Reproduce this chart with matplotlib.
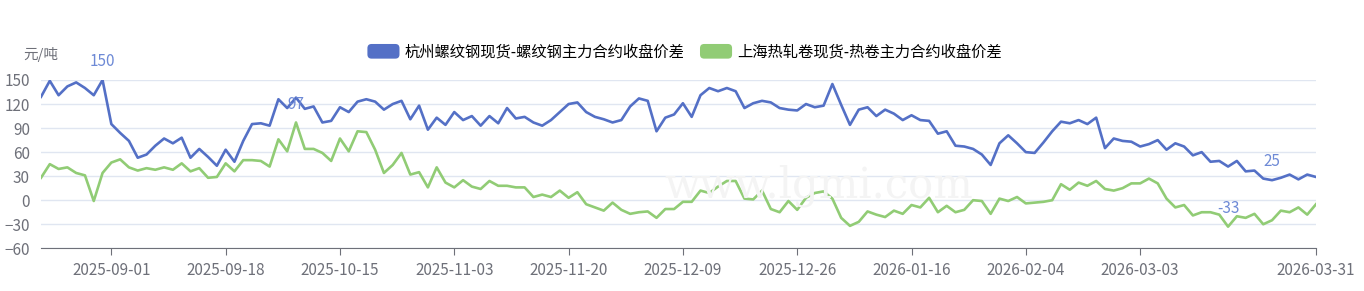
import matplotlib
matplotlib.use('Agg')
import matplotlib.pyplot as plt
from matplotlib.patches import Patch, FancyBboxPatch
from matplotlib.legend_handler import HandlerPatch

plt.rcParams['font.family'] = ['Noto Sans CJK SC', 'DejaVu Sans']

# trading-day series (one value per day, category axis)
rebar_spread = [129, 149, 131, 142, 147, 140, 131, 150, 95, 84, 74, 53, 57, 68, 77, 71, 78, 53, 64, 54, 43, 63, 48, 74,
                95, 96, 93, 126, 115, 128, 114, 117, 97, 99, 116, 110, 123, 126, 123, 113, 120, 124, 101, 118, 88, 103, 94, 110,
                100, 105, 93, 105, 96, 115, 102, 104, 97, 93, 100, 110, 120, 122, 110, 104, 101, 97, 100, 117, 127, 124, 86, 103,
                107, 121, 104, 131, 140, 136, 140, 136, 115, 121, 124, 122, 115, 113, 112, 120, 116, 118, 145, 119, 94, 113, 116, 105,
                113, 108, 100, 106, 100, 99, 83, 86, 68, 67, 64, 57, 44, 71, 81, 71, 60, 59, 72, 86, 98, 96, 100, 95,
                103, 65, 77, 74, 73, 67, 70, 75, 63, 71, 67, 56, 60, 48, 49, 42, 49, 36, 37, 27, 25, 28, 32, 26, 32, 29]
hrc_spread = [28, 45, 39, 41, 34, 31, -1, 34, 47, 51, 41, 37, 40, 38, 41, 38, 46, 36, 40, 28, 29, 46, 36, 50,
              50, 49, 42, 76, 61, 97, 64, 64, 59, 49, 77, 61, 86, 85, 63, 34, 44, 59, 32, 35, 16, 41, 22, 16,
              25, 17, 14, 24, 18, 18, 16, 16, 4, 7, 4, 12, 3, 10, -5, -9, -13, -3, -12, -17, -15, -14, -22, -11,
              -11, -2, -2, 12, 9, 17, 24, 24, 2, 1, 12, -11, -15, -1, -12, 3, 9, 11, 2, -22, -32, -27, -14, -18,
              -21, -13, -17, -6, -9, 3, -15, -7, -15, -12, 0, -1, -17, 2, -1, 4, -4, -3, -2, 0, 20, 13, 22, 18,
              24, 14, 12, 15, 21, 21, 27, 21, 2, -9, -6, -19, -15, -15, -18, -33, -20, -22, -17, -30, -25, -13, -15, -9, -18, -5]

tick_index = [8, 21, 34, 47, 60, 73, 86, 99, 112, 125, 145]
tick_labels = ['2025-09-01', '2025-09-18', '2025-10-15', '2025-11-03', '2025-11-20', '2025-12-09',
               '2025-12-26', '2026-01-16', '2026-02-04', '2026-03-03', '2026-03-31']
y_ticks = [-60, -30, 0, 30, 60, 90, 120, 150]

series_names = ['杭州螺纹钢现货-螺纹钢主力合约收盘价差', '上海热轧卷现货-热卷主力合约收盘价差']
colors = ['#5470c6', '#91cc75']
label_color = '#6e8ad6'
axis_gray = '#6e7079'


def rounded_box(legend, orig_handle, xdescent, ydescent, width, height, fontsize):
    return FancyBboxPatch((-xdescent, -ydescent), width, height,
                          boxstyle='round,pad=0,rounding_size=3')


fig = plt.figure(figsize=(13.64, 2.91), dpi=100)
ax = fig.add_axes([41 / 1364, (291 - 248.3) / 291, 1275 / 1364, (248.3 - 80) / 291])

x = list(range(len(rebar_spread)))
ax.plot(x, rebar_spread, color=colors[0], lw=1.9, zorder=3, solid_joinstyle='round')
ax.plot(x, hrc_spread, color=colors[1], lw=1.9, zorder=3, solid_joinstyle='round')

# max / min labels
for series in (rebar_spread, hrc_spread):
    for v in (max(series), min(series)):
        i = series.index(v)
        ax.annotate(str(v), (i, v), xytext=(0, 7), textcoords='offset points', ha='center', va='bottom',
                    color=label_color, fontsize=11, annotation_clip=False, zorder=4)

ax.set_xlim(0, len(x) - 1)
ax.set_ylim(-60, 150)
ax.set_yticks(y_ticks)
ax.set_xticks(tick_index)
ax.set_xticklabels(tick_labels)
ax.grid(axis='y', color='#e0e6f1', lw=1)
ax.set_axisbelow(True)
for side in ('top', 'right', 'left'):
    ax.spines[side].set_visible(False)
ax.spines['bottom'].set_color(axis_gray)
ax.tick_params(axis='y', length=0, pad=8, labelcolor=axis_gray, labelsize=11)
ax.tick_params(axis='x', length=5, color=axis_gray, pad=5, labelcolor=axis_gray, labelsize=11)

fig.text(41 / 1364, 1 - 54 / 291, '元/吨', ha='center', va='center', color=axis_gray, fontsize=10.5)

# faint watermark
fig.text(0.6, 0.36, 'www.lgmi.com', ha='center', va='center', family='DejaVu Serif',
         fontsize=30, color='#f4f4f4', zorder=0)

handles = [Patch(facecolor=c, edgecolor='none') for c in colors]
fig.legend(handles, series_names, loc='center', bbox_to_anchor=(0.502, 1 - 52 / 291), ncol=2, frameon=False,
           fontsize=11, handlelength=2.1, handleheight=1.1, handletextpad=0.35, columnspacing=1.0,
           handler_map={Patch: HandlerPatch(patch_func=rounded_box)})

fig.savefig('out.png', dpi=100)
